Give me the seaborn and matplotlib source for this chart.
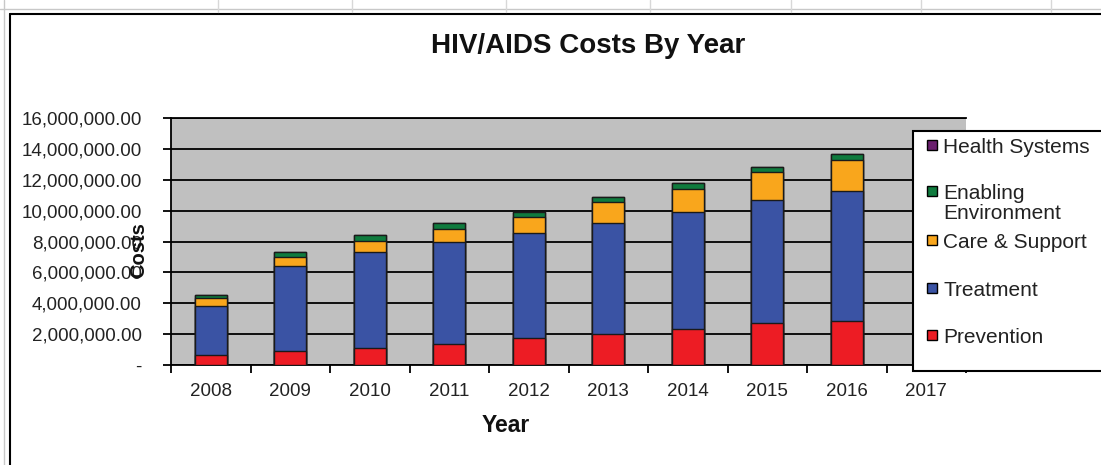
import matplotlib
matplotlib.use("Agg")
import matplotlib.pyplot as plt
import seaborn as sns
import numpy as np
from matplotlib.patches import Rectangle
from matplotlib.lines import Line2D
from matplotlib.ticker import FuncFormatter

# ---------------- data ----------------
years = ["2008", "2009", "2010", "2011", "2012", "2013", "2014", "2015", "2016", "2017"]
prevention = [650000, 890000, 1080000, 1390000, 1720000, 1980000, 2310000, 2740000, 2820000, 0]
treatment = [3190000, 5500000, 6250000, 6580000, 6860000, 7210000, 7620000, 7980000, 8420000, 0]
care_support = [470000, 610000, 720000, 870000, 980000, 1400000, 1490000, 1790000, 2060000, 0]
enabling_env = [250000, 310000, 360000, 350000, 350000, 310000, 350000, 320000, 350000, 0]
health_systems = [0, 0, 0, 0, 0, 0, 0, 0, 0, 0]
series_names = ["Prevention", "Treatment", "Care & Support", "Enabling\nEnvironment", "Health Systems"]
y_ticks = [0, 2000000, 4000000, 6000000, 8000000, 10000000, 12000000, 14000000, 16000000]

colors = ["#ED1C24", "#3A53A4", "#F9A61C", "#0F7B3E", "#6A1F6E"]

sns.set_theme(style="white")
plt.rcParams['font.family'] = ['Liberation Sans', 'DejaVu Sans']

W, H = 1101, 465
fig = plt.figure(figsize=(W / 100, H / 100), dpi=100)
fig.patch.set_facecolor("white")

ax = fig.add_axes([171 / W, (H - 365) / H, (966 - 171) / W, (365 - 118) / H])
ax.set_facecolor("#C0C0C0")

layers = np.array([prevention, treatment, care_support, enabling_env, health_systems], dtype=float)
cum = np.cumsum(layers, axis=0)
for i in reversed(range(len(series_names))):
    sns.barplot(x=years, y=cum[i], color=colors[i], width=0.4, saturation=1,
                edgecolor="#1a1a1a", linewidth=1.0, ax=ax, zorder=3)

ax.set_ylim(0, 16000000)
ax.set_yticks(y_ticks)
ax.yaxis.set_major_formatter(FuncFormatter(lambda v, p: "-" if v == 0 else f"{v:,.2f}"))
ax.yaxis.grid(True, color="black", linewidth=1.3)
ax.xaxis.grid(False)
ax.set_axisbelow(True)

ax.set_xlim(-0.5, len(years) - 0.5)
ax.set_xticks(np.arange(-0.5, len(years), 1.0))
ax.set_xticklabels([])
ax.set_xticks(np.arange(len(years)), labels=years, minor=True)
ax.tick_params(axis="x", which="major", length=6, width=1.3, color="black", direction="out", bottom=True)
ax.tick_params(axis="x", which="minor", length=0, pad=13, labelsize=13.5, labelcolor="#222222", bottom=True)
ax.tick_params(axis="y", length=6, width=1.3, color="black", direction="out", left=True,
               pad=15, labelsize=13.5, labelcolor="#222222")
ax.set_xlabel("")
ax.set_ylabel("")

for s in ["left", "bottom", "top"]:
    ax.spines[s].set_color("black")
    ax.spines[s].set_linewidth(1.3)
ax.spines["right"].set_visible(False)

fig.text(588 / W, 1 - 46 / H, "HIV/AIDS Costs By Year", ha="center", va="center",
         fontsize=20, fontweight="bold", color="#111111")
fig.text(506 / W, 1 - 425 / H, "Year", ha="center", va="center",
         fontsize=16.5, fontweight="bold", color="#111111")
fig.text(139 / W, 1 - 250 / H, "Costs", ha="center", va="center", rotation=90,
         fontsize=14.5, fontweight="bold", color="#111111")

# legend box (drawn from the series list, top entry = last series)
fig.add_artist(Rectangle((913 / W, 1 - 371 / H), (W + 10 - 913) / W, (371 - 131) / H,
                         transform=fig.transFigure, facecolor="white", edgecolor="black",
                         linewidth=1.5, zorder=5))
entry_y = [145, 191, 240, 288, 335]
order = [4, 3, 2, 1, 0]
for yy, i in zip(entry_y, order):
    fig.add_artist(Rectangle((927 / W, 1 - (yy + 5) / H), 10 / W, 10 / H, transform=fig.transFigure,
                             facecolor=colors[i], edgecolor="black", linewidth=1.0, zorder=6))
    fig.text(943 / W, 1 - (yy - 7) / H, series_names[i], ha="left", va="top", fontsize=15,
             color="#222222", linespacing=1.05, zorder=6)

# chart border and spreadsheet background lines
fig.add_artist(Line2D([10 / W, 10 / W], [0, 1 - 14 / H], color="black", lw=1.5, transform=fig.transFigure))
fig.add_artist(Line2D([10 / W, 1], [1 - 14 / H, 1 - 14 / H], color="black", lw=1.5, transform=fig.transFigure))
fig.add_artist(Line2D([0, 1], [1 - 9 / H, 1 - 9 / H], color="#C8C8C8", lw=1.0, transform=fig.transFigure))
fig.add_artist(Line2D([4 / W, 4 / W], [0, 1], color="#C8C8C8", lw=1.0, transform=fig.transFigure))
for xc in [218, 352, 506, 650, 791, 921, 1051]:
    fig.add_artist(Line2D([xc / W, xc / W], [1 - 12 / H, 1], color="#D8D8D8", lw=1.0, transform=fig.transFigure))

fig.savefig("out.png", dpi=100)
